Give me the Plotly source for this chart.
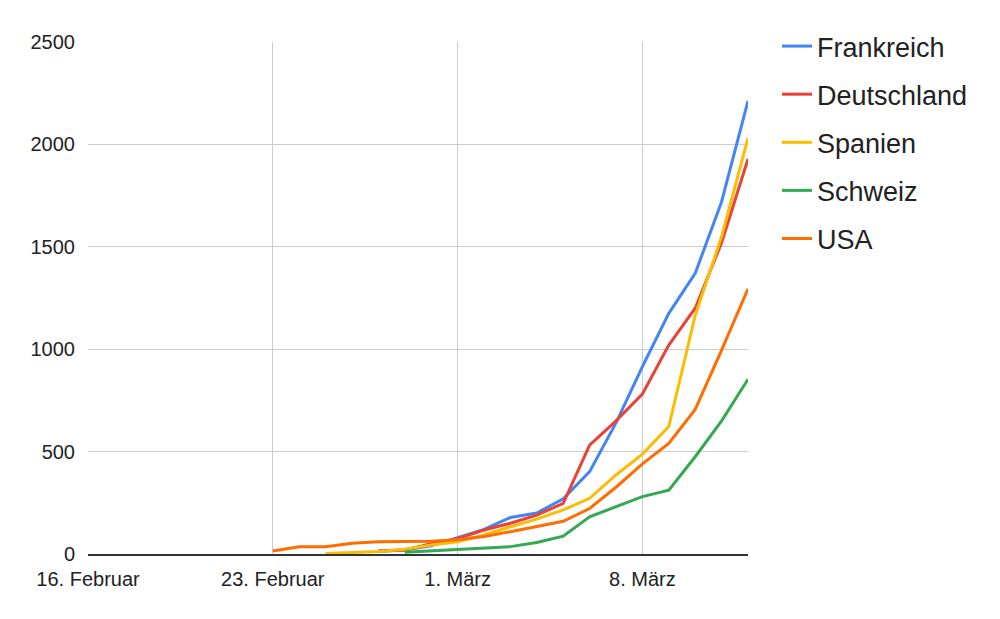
import pandas as pd
import plotly.graph_objects as go

# Data (cases per day)
frankreich_start = "2020-02-27"
frankreich = [12, 20, 40, 80, 120, 178, 200, 270, 402, 640, 915, 1175, 1370, 1720, 2213]

deutschland_start = "2020-02-27"
deutschland = [16, 20, 50, 75, 117, 150, 190, 247, 532, 650, 781, 1020, 1200, 1520, 1929]

spanien_start = "2020-02-25"
spanien = [2, 6, 12, 23, 44, 60, 93, 133, 170, 215, 272, 386, 488, 622, 1165, 1550, 2030]

schweiz_start = "2020-02-28"
schweiz = [8, 15, 22, 28, 36, 56, 87, 182, 231, 280, 312, 475, 650, 853]

usa_start = "2020-02-23"
usa = [15, 35, 36, 52, 60, 60, 62, 70, 85, 109, 133, 160, 222, 326, 440, 540, 706, 996, 1295]

series_names = ["Frankreich", "Deutschland", "Spanien", "Schweiz", "USA"]
series_starts = [frankreich_start, deutschland_start, spanien_start, schweiz_start, usa_start]
series_values = [frankreich, deutschland, spanien, schweiz, usa]
colors = ["#4285F4", "#EA4335", "#FBBC04", "#34A853", "#FF6D01"]

tick_dates = ["2020-02-16", "2020-02-23", "2020-03-01", "2020-03-08"]
tick_labels = ["16. Februar", "23. Februar", "1. März", "8. März"]

fig = go.Figure()
for name, start, vals, col in zip(series_names, series_starts, series_values, colors):
    dates = pd.date_range(start=start, periods=len(vals), freq="D")
    fig.add_trace(go.Scatter(
        x=dates, y=vals, name=name, mode="lines",
        line=dict(color=col, width=3),
        legendgroup=name,
    ))

font_family = "Liberation Sans, Arial, sans-serif"

fig.update_layout(
    width=1000, height=619,
    margin=dict(l=80, r=260, t=34, b=73),
    paper_bgcolor="white", plot_bgcolor="white",
    font=dict(family=font_family, size=20, color="#222222"),
    showlegend=True,
    legend=dict(
        x=1.0439, xanchor="left", y=1.039, yanchor="top",
        font=dict(size=27, color="#222222", family=font_family),
        tracegroupgap=10, itemwidth=30,
        bgcolor="rgba(0,0,0,0)",
    ),
    xaxis=dict(
        type="date",
        range=["2020-02-16", "2020-03-12"],
        tickmode="array", tickvals=tick_dates, ticktext=tick_labels,
        showgrid=True, gridcolor="#cccccc", gridwidth=1,
        showline=True, linecolor="#333333", linewidth=2,
        zeroline=False, ticks="", ticklabelstandoff=6,
        tickfont=dict(size=20, color="#222222"),
    ),
    yaxis=dict(
        range=[0, 2500],
        tickmode="array", tickvals=[0, 500, 1000, 1500, 2000, 2500],
        showgrid=True, gridcolor="#cccccc", gridwidth=1,
        zeroline=False, showline=False, ticks="", ticklabelstandoff=12,
        tickfont=dict(size=20, color="#222222"),
    ),
)

fig.write_html("out.html")
